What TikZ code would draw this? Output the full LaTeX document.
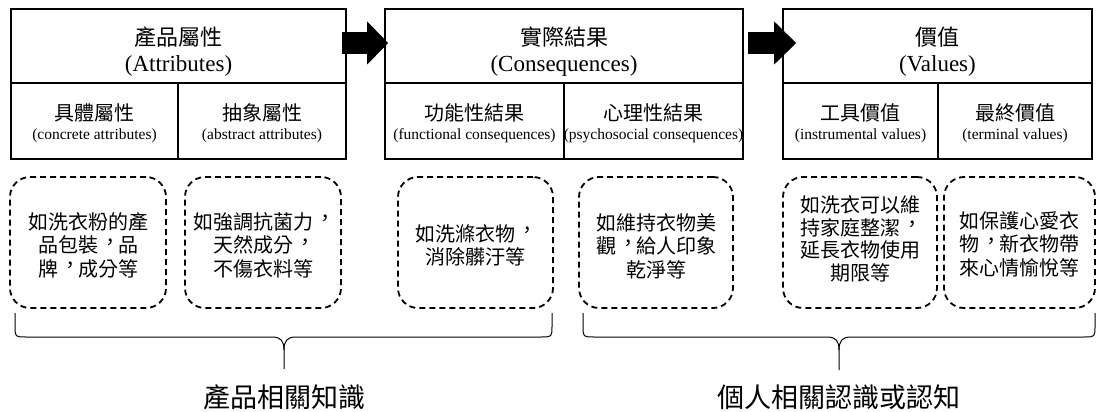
\documentclass[tikz,border=0pt]{standalone}
\usepackage{fontspec}
\setmainfont{Liberation Serif}
\newfontfamily\cjk{Noto Sans CJK TC}
\newcommand\zcomma{\makebox[1em][l]{\hspace{0.12em}\raisebox{0.17em}{\makebox[0.8em][l]{，}}}}
\usetikzlibrary{arrows.meta,calc}
\begin{document}
\begin{tikzpicture}[x=1pt,y=-1pt,
  hbox/.style={draw, line width=1.6pt, rectangle, inner sep=0pt, align=center},
  titlebox/.style={hbox, minimum height=74pt, text height=50pt, text depth=0pt, font=\fontsize{22}{25.6}\selectfont},
  subbox/.style={hbox, minimum height=76pt, text height=36pt, text depth=0pt, font=\fontsize{20}{18.5}\selectfont},
  dbox/.style={draw, line width=1.8pt, rounded corners=20pt, dash pattern=on 6pt off 4pt,
    inner sep=0pt, align=center, minimum height=131pt, text depth=0pt, font=\cjk\fontsize{20}{23.5}\selectfont},
  blockarrow/.style={line width=22pt, -{Triangle[length=21pt,width=43pt,line width=0pt]}},
  bracepath/.style={line width=1pt},
  biglabel/.style={font=\cjk\fontsize{27}{30}\selectfont, inner sep=0pt}
]
\useasboundingbox (0,0) rectangle (1098,412);
\fill[white] (0,0) rectangle (1098,412);

% top boxes
\node[titlebox, minimum width=335pt] (attr) at (178.5,46)
  {{\cjk\fontsize{22}{25.6}\selectfont 產品屬性}\\{\fontsize{23}{25.6}\selectfont (Attributes)}};
\node[subbox, minimum width=167pt] (conc) at (94.5,121)
  {{\cjk 具體屬性}\\{\fontsize{15.5}{18.5}\selectfont (concrete attributes)}};
\node[subbox, minimum width=168pt] (abst) at (262,121)
  {{\cjk 抽象屬性}\\{\fontsize{15.5}{18.5}\selectfont (abstract attributes)}};

\node[titlebox, minimum width=358pt] (cons) at (564,46)
  {{\cjk\fontsize{22}{25.6}\selectfont 實際結果}\\{\fontsize{23}{25.6}\selectfont (Consequences)}};
\node[subbox, minimum width=179pt] (func) at (474.5,121)
  {{\cjk 功能性結果}\\{\fontsize{15.5}{18.5}\selectfont (functional consequences)}};
\node[subbox, minimum width=179pt] (psyc) at (653.5,121)
  {{\cjk 心理性結果}\\{\fontsize{15.5}{18.5}\selectfont (psychosocial consequences)}};

\node[titlebox, minimum width=309pt] (vals) at (937.5,46)
  {{\cjk\fontsize{22}{25.6}\selectfont 價值}\\{\fontsize{23}{25.6}\selectfont (Values)}};
\node[subbox, minimum width=155pt] (inst) at (860.5,121)
  {{\cjk 工具價值}\\{\fontsize{15.5}{18.5}\selectfont (instrumental values)}};
\node[subbox, minimum width=154pt] (term) at (1015,121)
  {{\cjk 最終價值}\\{\fontsize{15.5}{18.5}\selectfont (terminal values)}};

% block arrows
\draw[blockarrow] ($(attr.east)+(-5,-3)$) -- ($(cons.west)+(4,-3)$);
\draw[blockarrow, -{Triangle[length=22pt,width=43pt,line width=0pt]}] ($(cons.east)+(4,-3)$) -- ($(vals.west)+(14,-3)$);

% dashed example boxes
\node[dbox, minimum width=156pt, text height=67pt] (ea) at (88,242.5) {如洗衣粉的產\\品包裝\zcomma 品\\牌\zcomma 成分等};
\node[dbox, minimum width=156pt, text height=67pt] (eb) at (263,242.5) {如強調抗菌力\zcomma\\天然成分\zcomma\\不傷衣料等};
\node[dbox, minimum width=155pt, text height=44pt] (ec) at (475.5,242.5) {如洗滌衣物\zcomma\\消除髒汙等};
\node[dbox, minimum width=154pt, text height=69pt] (ed) at (656,242.5) {如維持衣物美\\觀\zcomma 給人印象\\乾淨等};
\node[dbox, minimum width=154pt, text height=76pt, font=\cjk\fontsize{20}{22.7}\selectfont] (ee) at (860,242.5) {如洗衣可以維\\持家庭整潔\zcomma\\延長衣物使用\\期限等};
\node[dbox, minimum width=151pt, text height=65pt] (ef) at (1019.5,242.5) {如保護心愛衣\\物\zcomma 新衣物帶\\來心情愉悅等};

% braces
\draw[bracepath] (15,313) -- (15,326) .. controls (15,337) .. (26,337) -- (272,337)
  .. controls (281,337) and (284,341) .. (284,350) -- (284,369);
\draw[bracepath] (552,313) -- (552,326) .. controls (552,337) .. (541,337) -- (296,337)
  .. controls (287,337) and (284,341) .. (284,350);
\draw[bracepath] (583,313) -- (583,326) .. controls (583,337) .. (594,337) -- (827,337)
  .. controls (836,337) and (839,341) .. (839,350) -- (839,370);
\draw[bracepath] (1095,313) -- (1095,326) .. controls (1095,337) .. (1084,337) -- (851,337)
  .. controls (842,337) and (839,341) .. (839,350);

% labels
\node[biglabel] (k1) at (284,397) {產品相關知識};
\node[biglabel] (k2) at (839,397) {個人相關認識或認知};
\end{tikzpicture}
\end{document}
